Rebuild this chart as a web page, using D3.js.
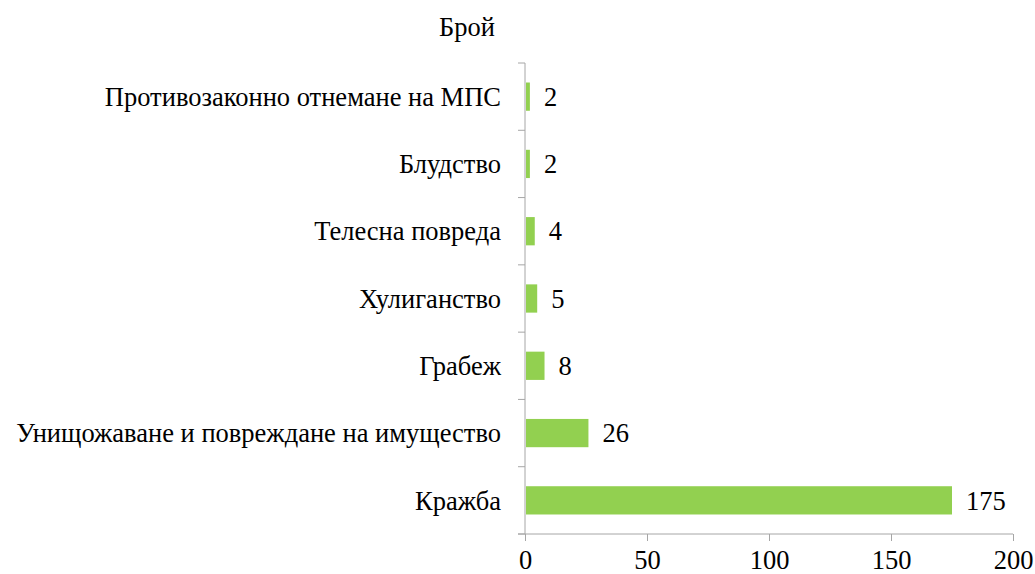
<!DOCTYPE html>
<html lang="bg">
<head>
    <meta charset="utf-8">
    <title>Брой</title>
    <style>
        body { margin: 0; background: #fff; }
        .axis path, .axis line { stroke: #a6a6a6; }
    </style>
</head>
<body>
    <svg width="1035" height="574"></svg>
    <script src="https://d3js.org/d3.v7.min.js"></script>
    <script>
        const categories = ['Противозаконно отнемане на МПС', 'Блудство', 'Телесна повреда',
            'Хулиганство', 'Грабеж', 'Унищожаване и повреждане на имущество', 'Кражба'];
        const values = [2, 2, 4, 5, 8, 26, 175];
        const xTicks = [0, 50, 100, 150, 200];

        var font = "'Liberation Serif', 'Times New Roman', serif",
            fontSize = '26.5px';

        var svg = d3.select('svg');
        var margin = { top: 63, left: 525 };
        var height = 534 - margin.top;

        var x = d3.scaleLinear().domain([0, 200]).range([0, 1013 - margin.left]);
        var y = d3.scaleBand().domain(categories).range([0, height]).paddingInner(0.58).paddingOuter(0.29);

        var g = svg.append('g').attr('transform', `translate(${margin.left},${margin.top})`);

        // y axis, ticks sit between categories
        var yAxis = g.append('g').attr('class', 'axis');
        yAxis.append('line').attr('x1', 0).attr('x2', 0).attr('y1', 0).attr('y2', height);
        var step = height / categories.length;
        d3.range(categories.length + 1).forEach(i => {
            yAxis.append('line').attr('x1', -7).attr('x2', 0).attr('y1', i * step).attr('y2', i * step);
        });
        yAxis.selectAll('text.cat')
            .data(categories)
            .enter().append('text')
            .attr('x', -24)
            .attr('y', d => y(d) + y.bandwidth() / 2)
            .attr('dy', '0.35em')
            .attr('text-anchor', 'end')
            .style('font-family', font)
            .style('font-size', fontSize)
            .text(d => d);

        // x axis
        var xAxis = g.append('g').attr('class', 'axis').attr('transform', `translate(0,${height})`)
            .call(d3.axisBottom(x).tickValues(xTicks).tickSize(7).tickSizeOuter(0).tickPadding(9));
        xAxis.select('.domain').attr('d', `M${-7},0H${x(200)}`);
        xAxis.selectAll('text')
            .style('font-family', font)
            .style('font-size', fontSize)
            .attr('fill', '#000');

        // bars
        g.selectAll('rect.bar')
            .data(values)
            .enter().append('rect')
            .attr('class', 'bar')
            .attr('x', 1)
            .attr('y', (d, i) => y(categories[i]))
            .attr('width', d => x(d) - 1)
            .attr('height', y.bandwidth())
            .attr('fill', '#92d050');

        g.selectAll('text.val')
            .data(values)
            .enter().append('text')
            .attr('x', d => x(d) + 14)
            .attr('y', (d, i) => y(categories[i]) + y.bandwidth() / 2)
            .attr('dy', '0.35em')
            .style('font-family', font)
            .style('font-size', fontSize)
            .text(d => d);

        svg.append('text')
            .attr('x', 467)
            .attr('y', 36)
            .attr('text-anchor', 'middle')
            .style('font-family', font)
            .style('font-size', fontSize)
            .text('Брой');
    </script>
</body>
</html>
